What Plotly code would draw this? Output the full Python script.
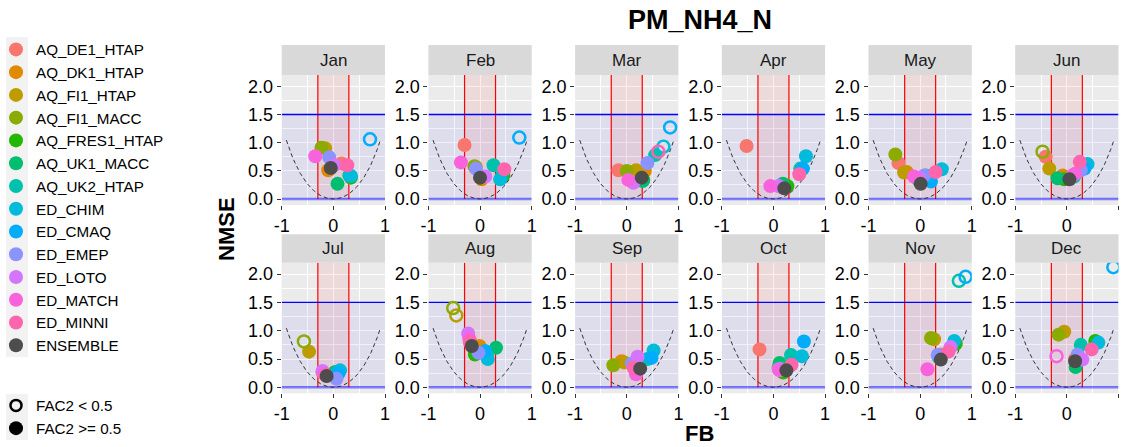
import numpy as np
import plotly.graph_objects as go

W, H = 1121, 447

months = ["Jan", "Feb", "Mar", "Apr", "May", "Jun",
          "Jul", "Aug", "Sep", "Oct", "Nov", "Dec"]

models = ["AQ_DE1_HTAP", "AQ_DK1_HTAP", "AQ_FI1_HTAP", "AQ_FI1_MACC",
          "AQ_FRES1_HTAP", "AQ_UK1_MACC", "AQ_UK2_HTAP", "ED_CHIM",
          "ED_CMAQ", "ED_EMEP", "ED_LOTO", "ED_MATCH", "ED_MINNI", "ENSEMBLE"]

colors = ["#F8766D", "#E18A00", "#BE9C00", "#8CAB00", "#24B700", "#00BE70",
          "#00C1AB", "#00BBDA", "#00ACFC", "#8B93FF", "#D575FE", "#F962DD",
          "#FF65AC", "#4D4D4D"]

# FB / NMSE per model, Jan..Dec
fb_AQ_DE1_HTAP = [0.16, -0.30, -0.16, -0.52, -0.42, -0.41, -0.21, -0.19, 0.12, -0.27, 0.40, 0.16]
nmse_AQ_DE1_HTAP = [0.63, 0.96, 0.51, 0.94, 0.64, 0.75, 0.26, 0.82, 0.40, 0.67, 0.58, 0.50]

fb_AQ_DK1_HTAP = [-0.10, 0.03, 0.35, 0.21, -0.26, -0.08, -0.15, -0.01, -0.10, 0.30, 0.38, 0.18]
nmse_AQ_DK1_HTAP = [0.51, 0.35, 0.50, 0.26, 0.48, 0.42, 0.22, 0.73, 0.46, 0.37, 0.55, 0.48]

fb_AQ_FI1_HTAP = [-0.16, -0.08, 0.18, 0.20, -0.31, -0.34, -0.47, -0.46, -0.05, 0.28, 0.27, -0.05]
nmse_AQ_FI1_HTAP = [0.90, 0.57, 0.51, 0.24, 0.47, 0.54, 0.63, 1.27, 0.44, 0.36, 0.85, 0.98]

fb_AQ_FI1_MACC = [-0.23, -0.11, 0.00, 0.18, -0.48, -0.47, -0.57, -0.52, -0.26, 0.10, 0.21, -0.16]
nmse_AQ_FI1_MACC = [0.91, 0.58, 0.50, 0.25, 0.79, 0.84, 0.81, 1.40, 0.39, 0.35, 0.87, 0.93]

fb_AQ_FRES1_HTAP = [0.34, 0.45, 0.32, 0.27, 0.05, -0.05, 0.02, -0.10, 0.22, 0.19, 0.69, 0.55]
nmse_AQ_FRES1_HTAP = [0.38, 0.42, 0.34, 0.23, 0.37, 0.35, 0.26, 0.58, 0.38, 0.26, 0.77, 0.82]

fb_AQ_UK1_MACC = [0.08, 0.42, 0.31, 0.18, -0.03, -0.18, 0.05, 0.31, 0.20, 0.12, 0.36, 0.17]
nmse_AQ_UK1_MACC = [0.27, 0.40, 0.32, 0.27, 0.34, 0.37, 0.27, 0.70, 0.41, 0.43, 0.53, 0.36]

fb_AQ_UK2_HTAP = [0.31, 0.26, 0.55, 0.52, 0.11, 0.14, 0.08, 0.13, 0.40, 0.34, 0.75, 0.27]
nmse_AQ_UK2_HTAP = [0.42, 0.60, 0.78, 0.54, 0.42, 0.40, 0.27, 0.55, 0.50, 0.57, 1.88, 0.75]

fb_ED_CHIM = [0.34, 0.39, 0.71, 0.63, 0.42, 0.40, 0.13, 0.15, 0.52, 0.55, 0.66, 0.61]
nmse_ED_CHIM = [0.41, 0.35, 0.93, 0.76, 0.53, 0.62, 0.30, 0.50, 0.65, 0.55, 0.82, 0.79]

fb_ED_CMAQ = [0.71, 0.76, 0.84, 0.57, 0.21, 0.34, 0.10, 0.10, 0.48, 0.59, 0.88, 0.90]
nmse_ED_CMAQ = [1.06, 1.09, 1.27, 0.54, 0.31, 0.54, 0.25, 0.64, 0.52, 0.81, 1.95, 2.12]

fb_ED_EMEP = [-0.08, -0.08, 0.40, 0.13, 0.08, 0.27, 0.06, -0.03, 0.10, 0.13, 0.34, 0.21]
nmse_ED_EMEP = [0.74, 0.54, 0.64, 0.22, 0.42, 0.51, 0.15, 0.61, 0.42, 0.33, 0.57, 0.58]

fb_ED_LOTO = [0.01, 0.10, 0.13, 0.10, -0.02, 0.11, -0.21, -0.23, 0.21, 0.10, 0.59, 0.30]
nmse_ED_LOTO = [0.60, 0.40, 0.29, 0.23, 0.38, 0.42, 0.29, 0.95, 0.54, 0.32, 0.71, 0.49]

fb_ED_MATCH = [-0.35, -0.37, 0.03, -0.06, -0.12, 0.16, -0.17, -0.21, 0.18, 0.12, 0.14, -0.20]
nmse_ED_MATCH = [0.76, 0.65, 0.34, 0.23, 0.40, 0.45, 0.24, 0.86, 0.23, 0.30, 0.32, 0.55]

fb_ED_MINNI = [0.27, 0.47, 0.61, 0.50, 0.30, 0.25, -0.14, -0.20, 0.13, 0.35, 0.55, 0.48]
nmse_ED_MINNI = [0.60, 0.53, 0.84, 0.44, 0.48, 0.66, 0.21, 0.80, 0.35, 0.40, 0.63, 0.67]

fb_ENSEMBLE = [-0.05, 0.00, 0.29, 0.21, 0.01, 0.05, -0.13, -0.16, 0.26, 0.25, 0.40, 0.16]
nmse_ENSEMBLE = [0.55, 0.38, 0.38, 0.19, 0.27, 0.35, 0.20, 0.73, 0.33, 0.30, 0.49, 0.46]

# (model, month) pairs with FAC2 < 0.5 (open circles)
fac2_below = [("ED_CMAQ", "Jan"), ("ED_CMAQ", "Feb"), ("ED_CMAQ", "Mar"),
              ("ED_CHIM", "Mar"), ("ED_MINNI", "Mar"), ("AQ_FI1_MACC", "Jun"),
              ("AQ_FI1_MACC", "Jul"), ("AQ_FI1_MACC", "Aug"), ("AQ_FI1_HTAP", "Aug"),
              ("AQ_UK2_HTAP", "Nov"), ("ED_CMAQ", "Nov"), ("ED_CMAQ", "Dec"),
              ("ED_MATCH", "Dec")]

fb_data = [fb_AQ_DE1_HTAP, fb_AQ_DK1_HTAP, fb_AQ_FI1_HTAP, fb_AQ_FI1_MACC,
           fb_AQ_FRES1_HTAP, fb_AQ_UK1_MACC, fb_AQ_UK2_HTAP, fb_ED_CHIM,
           fb_ED_CMAQ, fb_ED_EMEP, fb_ED_LOTO, fb_ED_MATCH, fb_ED_MINNI, fb_ENSEMBLE]
nmse_data = [nmse_AQ_DE1_HTAP, nmse_AQ_DK1_HTAP, nmse_AQ_FI1_HTAP, nmse_AQ_FI1_MACC,
             nmse_AQ_FRES1_HTAP, nmse_AQ_UK1_MACC, nmse_AQ_UK2_HTAP, nmse_ED_CHIM,
             nmse_ED_CMAQ, nmse_ED_EMEP, nmse_ED_LOTO, nmse_ED_MATCH, nmse_ED_MINNI,
             nmse_ENSEMBLE]

FONT = "Liberation Sans, Arial, sans-serif"
XR = [-1, 1]
YR = [-0.105, 2.2]

fig = go.Figure()

# layout geometry (pixels)
col_left = [281.7 + 146.7 * c for c in range(6)]
pw = 103.3
rows = [(75, 205, 45), (262.7, 393.3, 234.3)]  # plot top, plot bottom, strip top

# reference curve
cx = np.linspace(-0.91, 0.91, 121)
cy = 4 * cx ** 2 / (4 - cx ** 2)

layout_axes = {}
shapes = []
annotations = []

# legend key backgrounds
shapes.append(dict(type="rect", xref="paper", yref="paper", x0=6 / W, x1=28 / W,
                   y0=1 - 357 / H, y1=1 - 37 / H, fillcolor="#F2F2F2",
                   line=dict(width=0), layer="below"))
shapes.append(dict(type="rect", xref="paper", yref="paper", x0=6 / W, x1=28 / W,
                   y0=1 - 440 / H, y1=1 - 394 / H, fillcolor="#F2F2F2",
                   line=dict(width=0), layer="below"))

for i, mon in enumerate(months):
    r, c = divmod(i, 6)
    top, bot, stop = rows[r]
    n = "" if i == 0 else str(i + 1)
    xa, ya = "x" + n, "y" + n
    x0 = col_left[c]
    layout_axes["xaxis" + n] = dict(
        domain=[x0 / W, (x0 + pw) / W], range=XR, anchor=ya,
        tickvals=[-1, 0, 1], ticktext=["-1", "0", "1"],
        showgrid=True, gridcolor="white", gridwidth=1.3,
        minor=dict(tickvals=[-0.5, 0.5], showgrid=True, gridcolor="white", gridwidth=0.6),
        zeroline=False, showline=False, ticks="outside", ticklen=4, tickcolor="#333333",
        tickfont=dict(size=18, color="#000000", family=FONT), fixedrange=True)
    layout_axes["yaxis" + n] = dict(
        domain=[(H - bot) / H, (H - top) / H], range=YR, anchor=xa,
        tickvals=[0, 0.5, 1.0, 1.5, 2.0], ticktext=["0.0", "0.5", "1.0", "1.5", "2.0"],
        showgrid=True, gridcolor="white", gridwidth=1.3,
        minor=dict(tickvals=[0.25, 0.75, 1.25, 1.75], showgrid=True, gridcolor="white", gridwidth=0.6),
        zeroline=False, showline=False, ticks="outside", ticklen=4, tickcolor="#333333",
        tickfont=dict(size=18, color="#000000", family=FONT), fixedrange=True)

    # shading and reference lines
    shapes.append(dict(type="rect", xref=xa, yref=ya, x0=-1, x1=1, y0=0, y1=1.5,
                       fillcolor="rgba(0,0,255,0.06)", line=dict(width=0), layer="between"))
    shapes.append(dict(type="rect", xref=xa, yref=ya, x0=-0.3, x1=0.3, y0=0, y1=YR[1],
                       fillcolor="rgba(255,0,0,0.07)", line=dict(width=0), layer="between"))
    shapes.append(dict(type="line", xref=xa, yref=ya, x0=-0.3, x1=-0.3, y0=0, y1=YR[1],
                       line=dict(color="#FF0000", width=1.2), layer="between"))
    shapes.append(dict(type="line", xref=xa, yref=ya, x0=0.3, x1=0.3, y0=0, y1=YR[1],
                       line=dict(color="#FF0000", width=1.2), layer="between"))
    shapes.append(dict(type="line", xref=xa, yref=ya, x0=-1, x1=1, y0=1.5, y1=1.5,
                       line=dict(color="#0000FF", width=1.3), layer="between"))
    shapes.append(dict(type="line", xref=xa, yref=ya, x0=-1, x1=1, y0=0, y1=0,
                       line=dict(color="rgba(0,0,255,0.5)", width=2.5), layer="between"))
    # strip
    shapes.append(dict(type="rect", xref="paper", yref="paper",
                       x0=x0 / W, x1=(x0 + pw) / W, y0=(H - top) / H, y1=(H - stop) / H,
                       fillcolor="#D9D9D9", line=dict(width=0), layer="below"))
    annotations.append(dict(text=mon, xref="paper", yref="paper",
                            x=(x0 + pw / 2) / W, y=(H - (top + stop) / 2) / H,
                            xanchor="center", yanchor="middle", showarrow=False,
                            font=dict(size=17, color="#1A1A1A", family=FONT)))

    fig.add_trace(go.Scatter(x=cx, y=cy, mode="lines", xaxis=xa, yaxis=ya,
                             line=dict(color="#333333", width=1, dash="4px,3px"),
                             showlegend=False, hoverinfo="skip"))

    xs, ys, cols, syms, sizes, lws = [], [], [], [], [], []
    for k, m in enumerate(models):
        is_open = (m, mon) in fac2_below
        xs.append(fb_data[k][i])
        ys.append(nmse_data[k][i])
        cols.append(colors[k])
        syms.append("circle-open" if is_open else "circle")
        sizes.append(12 if is_open else 14)
        lws.append(2.5 if is_open else 0)
    fig.add_trace(go.Scatter(x=xs, y=ys, mode="markers", xaxis=xa, yaxis=ya,
                             marker=dict(color=cols, symbol=syms, size=sizes, opacity=1,
                                         line=dict(width=lws, color=cols)),
                             text=models, showlegend=False))

# legend entries
for k, m in enumerate(models):
    fig.add_trace(go.Scatter(x=[None], y=[None], mode="markers", name=m,
                             marker=dict(color=colors[k], size=14, opacity=1),
                             legend="legend", xaxis="x", yaxis="y"))
fig.add_trace(go.Scatter(x=[None], y=[None], mode="markers", name="FAC2 < 0.5",
                         marker=dict(color="black", size=11, symbol="circle-open", opacity=1,
                                     line=dict(width=2.5, color="black")),
                         legend="legend2", xaxis="x", yaxis="y"))
fig.add_trace(go.Scatter(x=[None], y=[None], mode="markers", name="FAC2 >= 0.5",
                         marker=dict(color="black", size=14, symbol="circle", opacity=1),
                         legend="legend2", xaxis="x", yaxis="y"))

# titles
annotations.append(dict(text="<b>PM_NH4_N</b>", xref="paper", yref="paper",
                        x=700 / W, y=1 - 20 / H, xanchor="center", yanchor="middle",
                        showarrow=False, font=dict(size=27, color="#000000", family=FONT)))
annotations.append(dict(text="<b>NMSE</b>", xref="paper", yref="paper",
                        x=227 / W, y=1 - 229 / H, xanchor="center", yanchor="middle",
                        textangle=-90, showarrow=False,
                        font=dict(size=22, color="#000000", family=FONT)))
annotations.append(dict(text="<b>FB</b>", xref="paper", yref="paper",
                        x=699 / W, y=1 - 433 / H, xanchor="center", yanchor="middle",
                        showarrow=False, font=dict(size=22, color="#000000", family=FONT)))

fig.update_layout(
    width=W, height=H, margin=dict(l=0, r=0, t=0, b=0, autoexpand=False),
    paper_bgcolor="white", plot_bgcolor="#EBEBEB",
    font=dict(family=FONT, color="#000000"),
    shapes=shapes, annotations=annotations,
    legend=dict(x=-4 / W, y=1 - 33 / H, xanchor="left", yanchor="top",
                font=dict(size=15.2, color="#000000", family=FONT),
                bgcolor="rgba(0,0,0,0)", tracegroupgap=0, itemsizing="trace"),
    legend2=dict(x=-4 / W, y=1 - 389 / H, xanchor="left", yanchor="top",
                 font=dict(size=15.2, color="#000000", family=FONT),
                 bgcolor="rgba(0,0,0,0)", tracegroupgap=0, itemsizing="trace"),
    **layout_axes,
)

fig.write_html("out.html", config={"displayModeBar": False},
               post_script="document.body.style.margin='0';")
